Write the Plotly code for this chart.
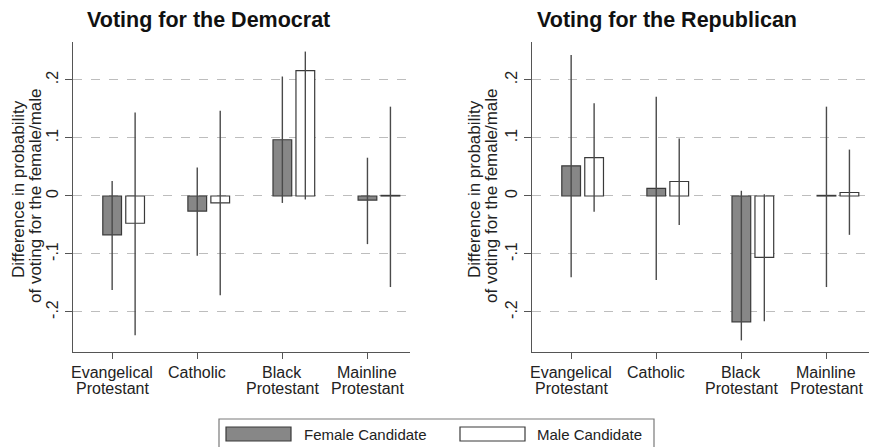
import plotly.graph_objects as go

W, H = 870, 447

# Religious groups on the x axis (one list per label line)
groups_line1 = ["Evangelical", "Catholic", "Black", "Mainline"]
groups_line2 = ["Protestant", "", "Protestant", "Protestant"]

# Difference in probability of voting for the Democrat
dem_female = [-0.067, -0.026, 0.097, -0.007]
dem_female_lo = [-0.162, -0.103, -0.012, -0.083]
dem_female_hi = [0.026, 0.049, 0.206, 0.066]
dem_male = [-0.047, -0.012, 0.216, 0.001]
dem_male_lo = [-0.240, -0.171, -0.006, -0.157]
dem_male_hi = [0.144, 0.147, 0.249, 0.154]

# Difference in probability of voting for the Republican
rep_female = [0.052, 0.013, -0.217, 0.001]
rep_female_lo = [-0.140, -0.145, -0.249, -0.157]
rep_female_hi = [0.243, 0.171, 0.009, 0.154]
rep_male = [0.066, 0.025, -0.106, 0.006]
rep_male_lo = [-0.027, -0.050, -0.216, -0.067]
rep_male_hi = [0.160, 0.099, 0.003, 0.080]

y_ticks = [-0.2, -0.1, 0, 0.1, 0.2]
y_tick_text = ["-.2", "-.1", "0", ".1", ".2"]

FONT = "Liberation Sans, Arial, Helvetica, sans-serif"
FEMALE_FILL = "#878787"
EDGE = "#3a3a3a"
ERR = "#4a4a4a"
BAR_W = 0.22
MALE_SHIFT = 0.27


def px_x(x):
    return x / W


def px_y(y):
    return 1 - y / H


def bar_trace(xs, vals, lo, hi, fill, axis):
    return go.Bar(
        x=xs, y=vals, width=BAR_W,
        marker=dict(color=fill, line=dict(color=EDGE, width=1.2)),
        error_y=dict(type="data", symmetric=False,
                     array=[h - v for h, v in zip(hi, vals)],
                     arrayminus=[v - l for v, l in zip(vals, lo)],
                     color=ERR, thickness=1.4, width=0),
        xaxis="x" + axis, yaxis="y" + axis, showlegend=False,
        hoverinfo="skip",
    )


pos = list(range(len(groups_line1)))
pos_m = [p + MALE_SHIFT for p in pos]

fig = go.Figure()
fig.add_trace(bar_trace(pos, dem_female, dem_female_lo, dem_female_hi, FEMALE_FILL, ""))
fig.add_trace(bar_trace(pos_m, dem_male, dem_male_lo, dem_male_hi, "white", ""))
fig.add_trace(bar_trace(pos, rep_female, rep_female_lo, rep_female_hi, FEMALE_FILL, "2"))
fig.add_trace(bar_trace(pos_m, rep_male, rep_male_lo, rep_male_hi, "white", "2"))

x_common = dict(
    range=[-0.46, 3.5], tickmode="array", tickvals=pos, showticklabels=False,
    showline=True, linecolor="#555", linewidth=1.3, ticks="outside",
    ticklen=6, tickcolor="#555", showgrid=False, zeroline=False,
    fixedrange=True,
)
y_common = dict(
    range=[-0.269, 0.2655], tickmode="array", tickvals=y_ticks,
    ticktext=y_tick_text, tickangle=-90, showline=True, linecolor="#555",
    linewidth=1.3, ticks="outside", ticklen=7, tickcolor="#555",
    showgrid=True, gridcolor="#bdbdbd", griddash="dash", gridwidth=1,
    zeroline=False, tickfont=dict(family=FONT, size=16, color="#222"),
    fixedrange=True,
)

y_dom = [px_y(352), px_y(42)]
fig.update_layout(
    width=W, height=H, margin=dict(l=0, r=0, t=0, b=0),
    paper_bgcolor="white", plot_bgcolor="white",
    barmode="overlay",
    xaxis=dict(domain=[px_x(73), px_x(410)], anchor="y", **x_common),
    yaxis=dict(domain=y_dom, anchor="x", **y_common),
    xaxis2=dict(domain=[px_x(532), px_x(869)], anchor="y2", **x_common),
    yaxis2=dict(domain=y_dom, anchor="x2", **y_common),
    font=dict(family=FONT, color="#222"),
)

annotations = []
# Category labels under each axis, two tight lines
for xr in ("x", "x2"):
    for p, l1, l2 in zip(pos, groups_line1, groups_line2):
        for text, cy in ((l1, 372), (l2, 388)):
            if text:
                annotations.append(dict(
                    text=text, x=p, y=px_y(cy), xref=xr, yref="paper",
                    showarrow=False, xanchor="center", yanchor="middle",
                    font=dict(family=FONT, size=16, color="#222"),
                ))
# Panel titles
for text, cx in [("Voting for the Democrat", 208), ("Voting for the Republican", 667)]:
    annotations.append(dict(
        text="<b>%s</b>" % text, x=px_x(cx), y=px_y(20), xref="paper", yref="paper",
        showarrow=False, xanchor="center", yanchor="middle",
        font=dict(family=FONT, size=21.5, color="#111"),
    ))
# Y axis titles (two lines each)
for off in (0, 456):
    for line, cx, cy in [("Difference in probability", 19, 189),
                         ("of voting for the female/male", 36, 196)]:
        annotations.append(dict(
            text=line, x=px_x(cx + off), y=px_y(cy), xref="paper", yref="paper",
            showarrow=False, textangle=-90, xanchor="center", yanchor="middle",
            font=dict(family=FONT, size=17, color="#222"),
        ))

# Legend box with swatches
legend_items = [("Female Candidate", FEMALE_FILL, 226, 302), ("Male Candidate", "white", 460, 535)]
shapes = [dict(type="rect", xref="paper", yref="paper",
               x0=px_x(219), x1=px_x(654), y0=px_y(455), y1=px_y(419),
               line=dict(color="#7a7a7a", width=1.2), fillcolor="white", layer="below")]
for label, fill, sx, tx in legend_items:
    shapes.append(dict(type="rect", xref="paper", yref="paper",
                       x0=px_x(sx), x1=px_x(sx + 65), y0=px_y(441), y1=px_y(427),
                       line=dict(color=EDGE, width=1.2), fillcolor=fill))
    annotations.append(dict(
        text=label, x=px_x(tx), y=px_y(434), xref="paper", yref="paper",
        showarrow=False, xanchor="left", yanchor="middle",
        font=dict(family=FONT, size=15, color="#222"),
    ))

fig.update_layout(annotations=annotations, shapes=shapes)

fig.write_html("out.html")
